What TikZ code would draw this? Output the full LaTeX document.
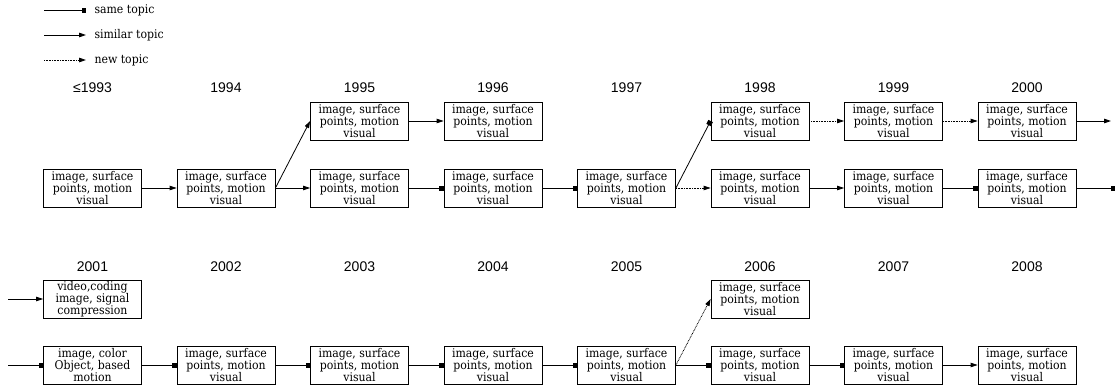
\documentclass[tikz,border=0pt]{standalone}
\usepackage{fontspec}
\setmainfont{DejaVu Serif}[FakeStretch=0.91]
\newfontfamily\yearfont{Liberation Sans}
\usetikzlibrary{arrows.meta}
\tikzset{
  x=1pt, y=-1pt,
  topic/.style={draw, line width=0.8pt, minimum width=98pt, minimum height=38pt,
    inner sep=0pt, align=center, font=\fontsize{12}{12.2}\selectfont},
  year/.style={font=\yearfont\fontsize{14}{16}\selectfont},
  legtext/.style={anchor=west, font=\fontsize{12}{13}\selectfont},
  conn/.style={line width=0.8pt},
  same/.style={conn, -{Square[length=4.5pt,width=5pt]}},
  similar/.style={conn, -{Triangle[length=7pt,width=4.5pt]}},
  newt/.style={conn, dash pattern=on 0.8pt off 0.8pt, -{Triangle[length=7pt,width=4.5pt]}},
}
\newcommand{\isp}{image, surface\\points, motion\\visual}
\begin{document}
\begin{tikzpicture}
\useasboundingbox (0,0) rectangle (1115,388);
% legend
\coordinate (l1a) at (44,10); \coordinate (l1b) at (86,10);
\coordinate (l2a) at (44,35); \coordinate (l2b) at (86,35);
\coordinate (l3a) at (44,60); \coordinate (l3b) at (86,60);
\draw[same] (l1a) -- (l1b);
\draw[similar] (l2a) -- (l2b);
\draw[newt] (l3a) -- (l3b);
\node[legtext] (lt1) at (91,10) {same topic};
\node[legtext] (lt2) at (91,35) {similar topic};
\node[legtext] (lt3) at (91,60) {new topic};
% years row 1
\node[year] (y1993) at (92.5,88) {≤1993};
\node[year] (y1994) at (226,88) {1994};
\node[year] (y1995) at (359.5,88) {1995};
\node[year] (y1996) at (493,88) {1996};
\node[year] (y1997) at (626.5,88) {1997};
\node[year] (y1998) at (760,88) {1998};
\node[year] (y1999) at (893.5,88) {1999};
\node[year] (y2000) at (1027,88) {2000};
% years row 2
\node[year] (y2001) at (92.5,267) {2001};
\node[year] (y2002) at (226,267) {2002};
\node[year] (y2003) at (359.5,267) {2003};
\node[year] (y2004) at (493,267) {2004};
\node[year] (y2005) at (626.5,267) {2005};
\node[year] (y2006) at (760,267) {2006};
\node[year] (y2007) at (893.5,267) {2007};
\node[year] (y2008) at (1027,267) {2008};
% row 1 boxes
\node[topic] (b93) at (92.5,188) {\isp};
\node[topic] (b94) at (226,188) {\isp};
\node[topic] (t95) at (359.5,121) {\isp};
\node[topic] (b95) at (359.5,188) {\isp};
\node[topic] (t96) at (493,121) {\isp};
\node[topic] (b96) at (493,188) {\isp};
\node[topic] (b97) at (626.5,188) {\isp};
\node[topic] (t98) at (760,121) {\isp};
\node[topic] (b98) at (760,188) {\isp};
\node[topic] (t99) at (893.5,121) {\isp};
\node[topic] (b99) at (893.5,188) {\isp};
\node[topic] (t00) at (1027,121) {\isp};
\node[topic] (b00) at (1027,188) {\isp};
\coordinate (t00out) at (1111,121);
\coordinate (b00out) at (1115,188);
% row 2 boxes
\coordinate (t01in) at (8,299);
\coordinate (b01in) at (8,365);
\node[topic] (t01) at (92.5,299) {video,coding\\image, signal\\compression};
\node[topic] (b01) at (92.5,365) {image, color\\Object, based\\motion};
\node[topic] (b02) at (226,365) {\isp};
\node[topic] (b03) at (359.5,365) {\isp};
\node[topic] (b04) at (493,365) {\isp};
\node[topic] (b05) at (626.5,365) {\isp};
\node[topic] (t06) at (760,299) {\isp};
\node[topic] (b06) at (760,365) {\isp};
\node[topic] (b07) at (893.5,365) {\isp};
\node[topic] (b08) at (1027,365) {\isp};
% row 1 connectors
\draw[similar] (b93) -- (b94);
\draw[similar] (b94.east) -- (t95.west);
\draw[similar] (b94) -- (b95);
\draw[similar] (t95) -- (t96);
\draw[same] (b95) -- (b96);
\draw[same] (b96) -- (b97);
\draw[same] (b97.east) -- (t98.west);
\draw[newt] (b97) -- (b98);
\draw[newt] (t98) -- (t99);
\draw[similar] (b98) -- (b99);
\draw[newt] (t99) -- (t00);
\draw[same] (b99) -- (b00);
\draw[similar] (t00) -- (t00out);
\draw[same] (b00) -- (b00out);
% row 2 connectors
\draw[similar] (t01in) -- (t01);
\draw[same] (b01in) -- (b01);
\draw[same] (b01) -- (b02);
\draw[same] (b02) -- (b03);
\draw[same] (b03) -- (b04);
\draw[same] (b04) -- (b05);
\draw[newt] (b05.east) -- (t06.west);
\draw[same] (b05) -- (b06);
\draw[same] (b06) -- (b07);
\draw[similar] (b07) -- (b08);
\end{tikzpicture}
\end{document}
